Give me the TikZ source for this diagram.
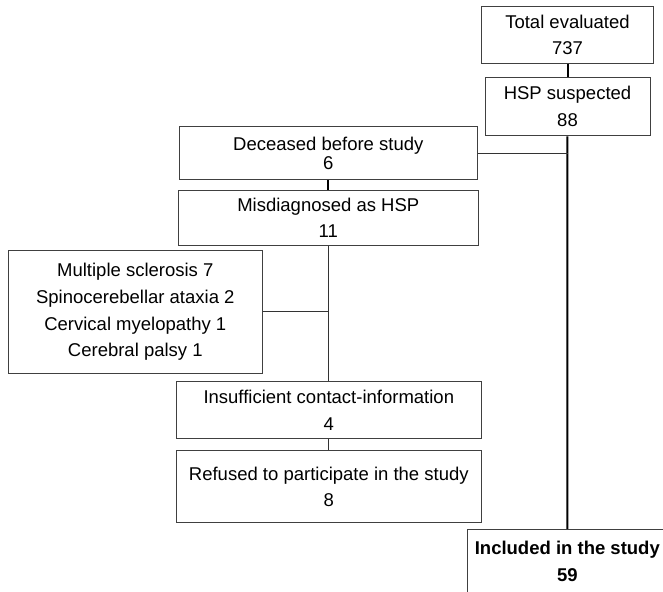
\documentclass[tikz,border=0pt]{standalone}
\usepackage{fontspec}
\setmainfont{Liberation Sans}
\usetikzlibrary{positioning}

\begin{document}
\begin{tikzpicture}[x=0.5pt, y=-0.5pt,
            box/.style={draw=black!75, line width=0.5pt, inner sep=0pt, align=center,
                        font=\fontsize{9.25}{13.35}\selectfont},
            spine/.style={draw=black, line width=1pt},
            branch/.style={draw=black!80, line width=0.5pt}]

            % Canvas
            \useasboundingbox (0,0) rectangle (663,592);
            \clip (0,0) rectangle (663,592);

            % Main flow
            \node[box, minimum width=85.8pt, minimum height=28.3pt] (total) at (567.5,35) {Total evaluated\\737};
            \node[box, minimum width=82.5pt, minimum height=29.3pt] (hsp) at (567.5,106.7) {HSP suspected\\88};
            \node[box, font=\fontsize{9.25}{13.35}\selectfont\bfseries, minimum width=100pt, minimum height=32pt] (included) at (567.3,561.3) {Included in the study\\59};

            % Excluded patients
            \node[box, font=\fontsize{9.25}{9.65}\selectfont, minimum width=149pt, minimum height=26.6pt] (deceased) at (328.3,153.3) {Deceased before study\\6};
            \node[box, minimum width=150pt, minimum height=27.2pt, below=4.9pt of deceased] (misdiag) {Misdiagnosed as HSP\\11};
            \node[box, minimum width=126.8pt, minimum height=61.3pt] (causes) at (135.3,312) {Multiple sclerosis 7\\Spinocerebellar ataxia 2\\Cervical myelopathy 1\\Cerebral palsy 1};
            \node[box, minimum width=152.2pt, minimum height=28.7pt] (contact) at (328.8,410.3) {Insufficient contact-information\\4};
            \node[box, minimum width=152.2pt, minimum height=35.9pt, below=5.5pt of contact] (refused) {Refused to participate in the study\\8};

            % Connectors
            \draw[spine] (total) -- (hsp);
            \draw[spine] (hsp) -- (included);
            \draw[branch] (deceased.east) -- (deceased.east -| hsp.south);
            \draw[spine] (deceased) -- (misdiag);
            \draw[branch] (misdiag.south) -- (misdiag.south |- contact.north);
            \draw[branch] (causes.east) -- (causes.east -| misdiag.south);
            \draw[branch] (contact) -- (refused);
\end{tikzpicture}
\end{document}
